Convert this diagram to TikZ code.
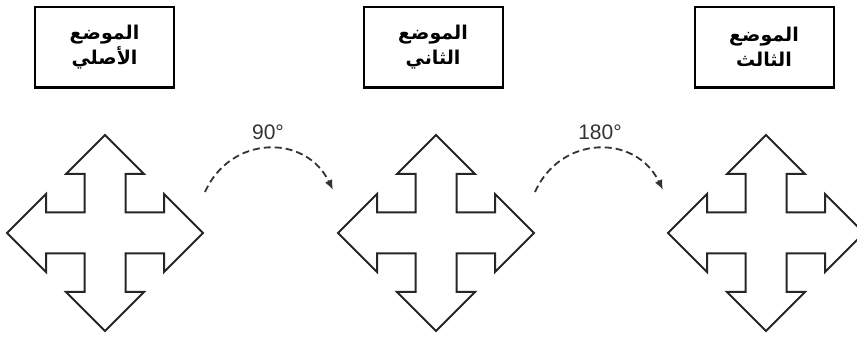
\documentclass[tikz,border=0pt]{standalone}
\usepackage{fontspec}
\setmainfont{Liberation Sans}
\newfontfamily\arabicfont[Script=Arabic]{DejaVu Sans}
\TeXXeTstate=1
\usetikzlibrary{arrows.meta}

\tikzset{
    posbox/.style={draw, line width=2pt, minimum width=139pt, minimum height=80pt,
        align=center, font=\arabicfont\bfseries\fontsize{19}{25}\selectfont},
    crossline/.style={draw=black!85, line width=2pt, fill=white, line join=miter},
    turn/.style={line width=1.8pt, dash pattern=on 7pt off 4pt, black!80,
        -{Latex[length=10pt,width=8pt]}},
    angle/.style={font=\fontsize{21}{21}\selectfont, text=black!80}
}

\begin{document}
\begin{tikzpicture}[x=1pt, y=1pt]
    \useasboundingbox (0,0) rectangle (857,340);

    % Draw the three position boxes
    \node[posbox] (pos1) at (104.5,293) {\beginR الموضع\endR\\\beginR الأصلي\endR};
    \node[posbox] (pos2) at (433,293) {\beginR الموضع\endR\\\beginR الثاني\endR};
    \node[posbox] (pos3) at (764,293) {\beginR الموضع\endR\\\beginR الثالث\endR};
    \foreach \p in {pos1,pos2,pos3}
        \draw[line width=3pt] (\p.south west) -- (\p.south east);

    % Draw the four-way arrows
    \foreach \cx/\name in {105/cross1, 436/cross2, 766/cross3} {
        \coordinate (\name) at (\cx,107);
        \path[crossline] (\name) ++(0,98)
            -- ++(39,-39) -- ++(-18.5,0) -- ++(0,-38.5) -- ++(38.5,0)
            -- ++(0,18.5) -- ++(39,-39) -- ++(-39,-39) -- ++(0,18.5)
            -- ++(-38.5,0) -- ++(0,-38.5) -- ++(18.5,0) -- ++(-39,-39)
            -- ++(-39,39) -- ++(18.5,0) -- ++(0,38.5) -- ++(-38.5,0)
            -- ++(0,-18.5) -- ++(-39,39) -- ++(39,39) -- ++(0,-18.5)
            -- ++(38.5,0) -- ++(0,38.5) -- ++(-18.5,0) -- cycle;
    }

    % Draw the rotation arrows
    \coordinate (s1) at (205,148);
    \coordinate (e1) at (333,150);
    \coordinate (s2) at (535,148);
    \coordinate (e2) at (663,150);
    \draw[turn] (s1) to[bend left=65, looseness=1.25] (e1);
    \draw[turn] (s2) to[bend left=65, looseness=1.25] (e2);

    % Add angle labels
    \node[angle] (deg1) at (268,208) {90°};
    \node[angle] (deg2) at (600,208) {180°};
\end{tikzpicture}
\end{document}
